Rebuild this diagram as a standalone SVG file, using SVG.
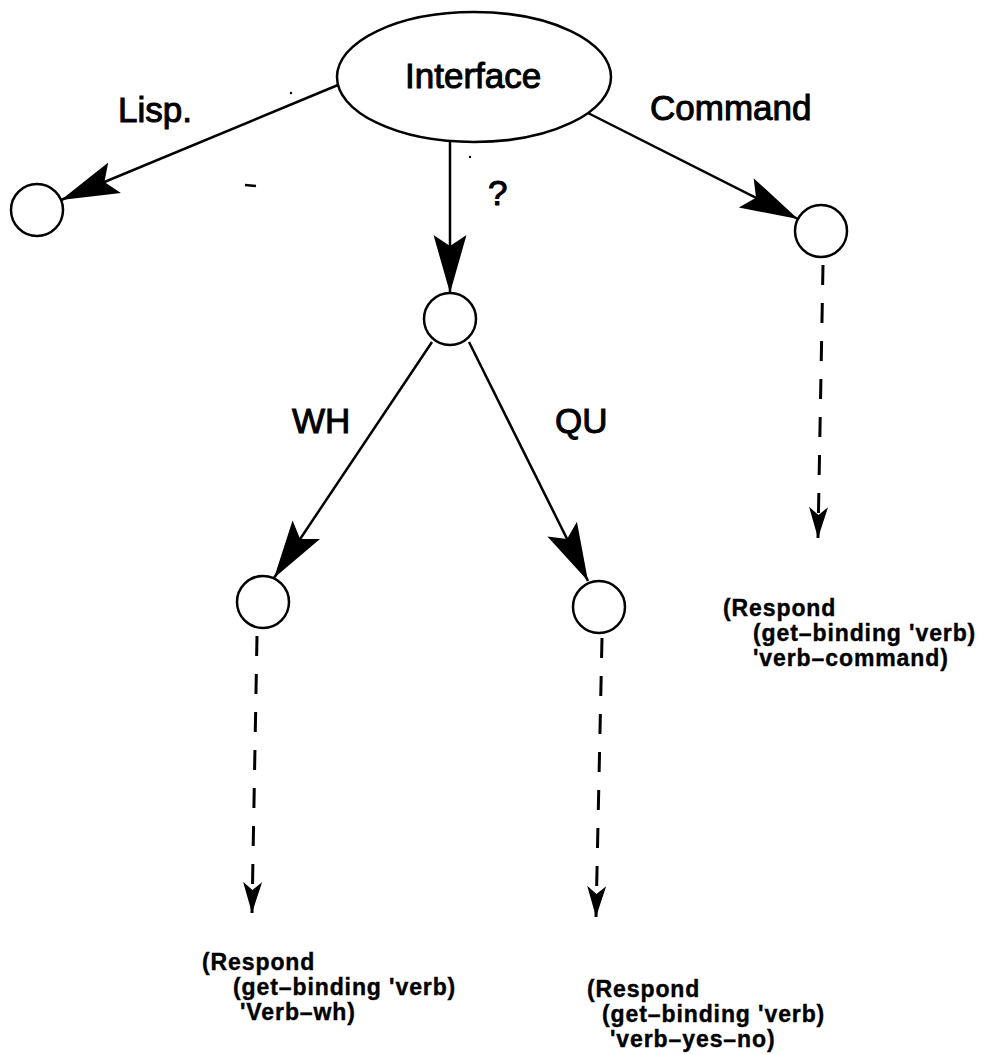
<svg xmlns="http://www.w3.org/2000/svg" width="1000" height="1055" viewBox="0 0 1000 1055">
  <style>
    .node { fill: #fff; stroke: #000; stroke-width: 2.5; }
    .edge { fill: none; stroke: #000; stroke-width: 2.5; }
    .dash { fill: none; stroke: #000; stroke-width: 3; stroke-dasharray: 20 18; }
    .lbl { font-family: "Liberation Sans", Arial, Helvetica, sans-serif; font-size: 35px; fill: #000; stroke: #000; stroke-width: 1; }
    .code { font-family: "Liberation Sans", Arial, Helvetica, sans-serif; font-size: 23px; font-weight: bold; letter-spacing: 0.9px; fill: #000; stroke: #000; stroke-width: 0.4; }
  </style>
  <defs>
    <marker id="bigArrow" markerUnits="userSpaceOnUse" viewBox="-62 -20 64 40" markerWidth="64" markerHeight="40" refX="0" refY="0" orient="auto">
      <path d="M0,0 L-58,-16.5 L-47,0 L-58,16.5 Z" fill="#000"/>
    </marker>
    <marker id="smallArrow" markerUnits="userSpaceOnUse" viewBox="-34 -12 36 24" markerWidth="36" markerHeight="24" refX="0" refY="0" orient="auto">
      <path d="M0,0 L-31,-9.5 L-23,0 L-31,9.5 Z" fill="#000"/>
    </marker>
  </defs>
  <rect width="1000" height="1055" fill="#fff"/>

  <g id="connectors">
    <path class="edge" d="M338,85 L61,200" marker-end="url(#bigArrow)"/>
    <path class="edge" d="M588,113 L798,219" marker-end="url(#bigArrow)"/>
    <path class="edge" d="M450,141 L450,293" marker-end="url(#bigArrow)"/>
    <path class="edge" d="M432,342 L274,578" marker-end="url(#bigArrow)"/>
    <path class="edge" d="M469,342 L588,581" marker-end="url(#bigArrow)"/>
    <path class="dash" d="M257,636 L252,913" marker-end="url(#smallArrow)"/>
    <path class="dash" d="M602,638 L596,917" marker-end="url(#smallArrow)"/>
    <path class="dash" d="M823,265 L818,538" marker-end="url(#smallArrow)"/>
  </g>

  <g id="edge-labels">
    <text class="lbl" x="118" y="122">Lisp.</text>
    <text class="lbl" x="650" y="120">Command</text>
    <text class="lbl" x="488" y="205">?</text>
    <text class="lbl" x="292" y="433">WH</text>
    <text class="lbl" x="555" y="433">QU</text>
  </g>

  <g id="node-interface">
    <ellipse class="node" cx="474" cy="77" rx="137" ry="65"/>
    <text class="lbl" x="405" y="88">Interface</text>
  </g>
  <g id="node-lisp">
    <circle class="node" cx="37" cy="210" r="26"/>
  </g>
  <g id="node-question">
    <circle class="node" cx="450" cy="319" r="26"/>
  </g>
  <g id="node-command">
    <circle class="node" cx="821" cy="231" r="26"/>
  </g>
  <g id="node-wh">
    <circle class="node" cx="263" cy="602" r="26"/>
  </g>
  <g id="node-qu">
    <circle class="node" cx="599" cy="607" r="26"/>
  </g>

  <g id="result-command">
    <text class="code"><tspan x="723" y="616">(Respond</tspan><tspan x="753" y="641">(get–binding 'verb)</tspan><tspan x="753" y="666">'verb–command)</tspan></text>
  </g>
  <g id="result-wh">
    <text class="code"><tspan x="202" y="970">(Respond</tspan><tspan x="233" y="995">(get–binding 'verb)</tspan><tspan x="240" y="1020">'Verb–wh)</tspan></text>
  </g>
  <g id="result-qu">
    <text class="code"><tspan x="587" y="997">(Respond</tspan><tspan x="602" y="1022">(get–binding 'verb)</tspan><tspan x="610" y="1047">'verb–yes–no)</tspan></text>
  </g>

  <g id="scan-marks">
    <path d="M245,185 L256,186" stroke="#000" stroke-width="2.5"/>
    <circle cx="291" cy="93" r="1.2" fill="#000"/>
    <circle cx="470" cy="157" r="1.2" fill="#000"/>
  </g>
</svg>
